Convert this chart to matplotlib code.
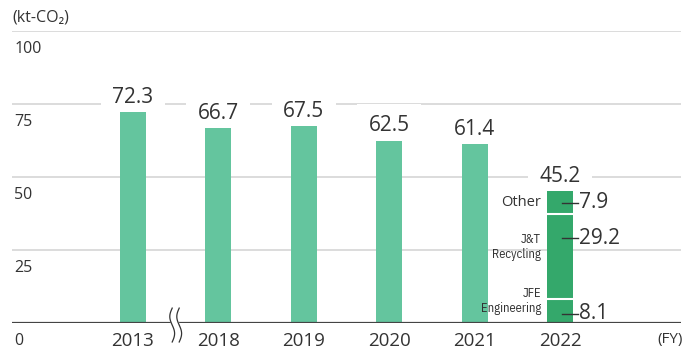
import matplotlib
matplotlib.use("Agg")
import matplotlib.pyplot as plt
import numpy as np

years = ["2013", "2018", "2019", "2020", "2021", "2022"]
totals = [72.3, 66.7, 67.5, 62.5, 61.4, 45.2]
y_ticks = [0, 25, 50, 75, 100]

# 2022 breakdown, bottom to top
seg_names = ["JFE\nEngineering", "J&T\nRecycling", "Other"]
seg_values = [8.1, 29.2, 7.9]
seg_labels = ["8.1", "29.2", "7.9"]

c_light = "#64c59e"
c_dark = "#34a86b"
c_text = "#333333"
c_grid = "#d6d6d6"

plt.rcParams['font.family'] = ['Open Sans', 'DejaVu Sans']

fig = plt.figure(figsize=(6.85, 3.49), dpi=100)
L, R, B, T = 12, 681, 323, 31
ax = fig.add_axes([L / 685, 1 - B / 349, (R - L) / 685, (B - T) / 349])
px = 85.4  # pixels per category
ax.set_xlim((L - 133) / px, (R - 133) / px)
ax.set_ylim(0, 100)
ax.axis('off')

x = np.arange(len(years))
w = 26 / px

# grid + y labels
for v in y_ticks:
    if v > 0:
        ax.axhline(v, color=c_grid, lw=1.2, zorder=1)
    ax.annotate(str(v), xy=(0, v), xycoords=('axes fraction', 'data'),
                xytext=(1.5, -7), textcoords='offset points',
                ha='left', va='top', fontsize=11.5, color=c_text)
ax.axhline(0, color='#444444', lw=1.6, zorder=5)

# single bars
ax.bar(x[:-1], totals[:-1], width=w, color=c_light, zorder=3)

# stacked 2022
bottom = 0
for v in seg_values:
    ax.bar(x[-1], v, width=w, bottom=bottom, color=c_dark, zorder=3)
    bottom += v
cum = np.cumsum(seg_values)[:-1]
for c in cum:
    ax.plot([x[-1] - w / 2, x[-1] + w / 2], [c, c], color='white', lw=1.5, zorder=4)

# totals, with a white gap cut into the gridline around each label
for xi, t in zip(x, totals):
    ax.annotate(f"{t}", xy=(xi, t), xytext=(0, 3), textcoords='offset points',
                ha='center', va='bottom', fontsize=15, color=c_text, zorder=2,
                bbox=dict(boxstyle='square,pad=0.15', fc='white', ec='none'))
    ax.annotate(f"{t}", xy=(xi, t), xytext=(0, 3), textcoords='offset points',
                ha='center', va='bottom', fontsize=15, color='none', zorder=1.5,
                bbox=dict(boxstyle='square,pad=0.55', fc='white', ec='none'))

# breakdown labels
name_y = [7.5, 26.0, 41.1]
lead_y = [3.1, 29.1, 41.1]
for name, ny, ly, lab in zip(seg_names, name_y, lead_y, seg_labels):
    if "\n" in name:
        fam, fs = ['IBM Plex Sans Condensed', 'DejaVu Sans'], 9
    else:
        fam, fs = ['Open Sans', 'DejaVu Sans'], 10.5
    ax.text(x[-1] - w / 2 - 6 / px, ny, name, ha='right', va='center',
            fontsize=fs, color=c_text, linespacing=1.15, family=fam)
    ax.plot([x[-1] + 2 / px, x[-1] + 18 / px], [ly, ly], color='#333333', lw=1, zorder=6)
    ax.text(x[-1] + 19 / px, ly, lab, ha='left', va='center', fontsize=15, color=c_text)

# x labels
for xi, yr in zip(x, years):
    ax.annotate(yr, xy=(xi, 0), xytext=(0, -6.5), textcoords='offset points',
                ha='center', va='top', fontsize=13.5, color=c_text)

# axis break between 2013 and 2018
tt = np.linspace(0, 1, 60)
yy = -6.5 + 11.6 * tt
xb = 0.5 + (2.4 / px) * np.sin(2 * np.pi * tt)
gap = 3.5 / px
ax.fill_betweenx(yy, xb - gap, xb + gap, color='white', zorder=6, clip_on=False)
ax.plot(xb - gap, yy, color='#333333', lw=0.9, zorder=7, clip_on=False)
ax.plot(xb + gap, yy, color='#333333', lw=0.9, zorder=7, clip_on=False)

fig.text(12 / 685, 1 - 18 / 349, "(kt-CO\u2082)", ha='left', va='center',
         fontsize=11.5, color=c_text)
fig.text(683 / 685, 1 - 340 / 349, "(FY)", ha='right', va='center',
         fontsize=11, color=c_text)

fig.savefig("out.png", dpi=100)
